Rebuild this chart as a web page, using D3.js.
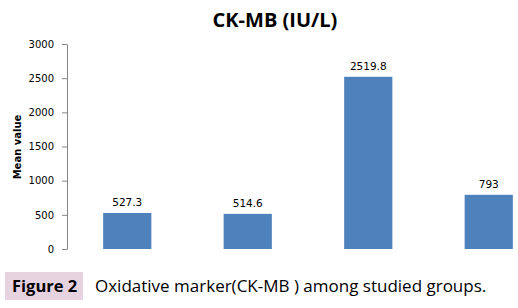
<!DOCTYPE html>
<html>
<head>
<meta charset="utf-8">
<script src="https://cdn.jsdelivr.net/npm/d3@7"></script>
<style>
  body { margin: 0; background: #fff; }
</style>
</head>
<body>
<div id="chart"></div>
<script>
// chart values
const groups = ["G1", "G2", "G3", "G4"];
const means = [527.3, 514.6, 2519.8, 793];
const labels = ["527.3", "514.6", "2519.8", "793"];
const yTicks = [0, 500, 1000, 1500, 2000, 2500, 3000];

const W = 518, H = 308;
const margin = {top: 44, left: 67, bottom: 59};
const plotH = H - margin.top - margin.bottom;

const svg = d3.select("#chart")
  .append("svg")
    .attr("width", W)
    .attr("height", H);

// title
svg.append("text")
  .attr("x", 275)
  .attr("y", 27)
  .attr("text-anchor", "middle")
  .style("font-family", "'Open Sans', sans-serif")
  .style("font-weight", "bold")
  .style("font-size", "20px")
  .style("fill", "#000")
  .text("CK-MB (IU/L)");

const g = svg.append("g")
  .attr("transform", `translate(${margin.left},${margin.top})`);

// x scale runs past the right edge of the picture (the original is cropped)
const x = d3.scaleBand()
  .domain(groups)
  .range([0, 482])
  .paddingInner(0.6)
  .paddingOuter(0.3);

const y = d3.scaleLinear()
  .domain([0, 3000])
  .range([plotH, 0]);

// y axis
const yAxis = g.append("g")
  .call(d3.axisLeft(y).tickValues(yTicks).tickFormat(d3.format("d"))
    .tickSize(5).tickSizeOuter(0).tickPadding(8));
yAxis.select(".domain").attr("stroke", "#868686");
yAxis.selectAll(".tick line").attr("stroke", "#868686");
yAxis.selectAll(".tick text")
  .style("font-family", "'DejaVu Sans', sans-serif")
  .style("font-size", "10px")
  .attr("fill", "#000");

// y axis title
svg.append("text")
  .attr("transform", "translate(21,147) rotate(-90)")
  .attr("text-anchor", "middle")
  .style("font-family", "'DejaVu Sans', sans-serif")
  .style("font-weight", "bold")
  .style("font-size", "10px")
  .text("Mean value");

// bars
g.selectAll("rect.bar")
  .data(means)
  .join("rect")
    .attr("class", "bar")
    .attr("x", (d, i) => x(groups[i]))
    .attr("y", d => y(d))
    .attr("width", x.bandwidth())
    .attr("height", d => plotH - y(d))
    .attr("fill", "#4f81bd");

// value labels
g.selectAll("text.val")
  .data(means)
  .join("text")
    .attr("class", "val")
    .attr("x", (d, i) => x(groups[i]) + x.bandwidth() / 2)
    .attr("y", d => y(d) - 7)
    .attr("text-anchor", "middle")
    .style("font-family", "'DejaVu Sans', sans-serif")
    .style("font-size", "10.5px")
    .style("fill", "#000")
    .text((d, i) => labels[i]);

// caption
svg.append("rect")
  .attr("x", 5).attr("y", 272)
  .attr("width", 78).attr("height", 28)
  .attr("fill", "#e7d3e0");
svg.append("text")
  .attr("x", 12).attr("y", 292)
  .style("font-family", "'Open Sans', sans-serif")
  .style("font-weight", "bold")
  .style("font-size", "16.5px")
  .style("fill", "#000")
  .text("Figure 2");
svg.append("text")
  .attr("x", 95).attr("y", 292)
  .style("font-family", "'Open Sans', sans-serif")
  .style("font-size", "17px")
  .style("fill", "#000")
  .text("Oxidative marker(CK-MB ) among studied groups.");
</script>
</body>
</html>
